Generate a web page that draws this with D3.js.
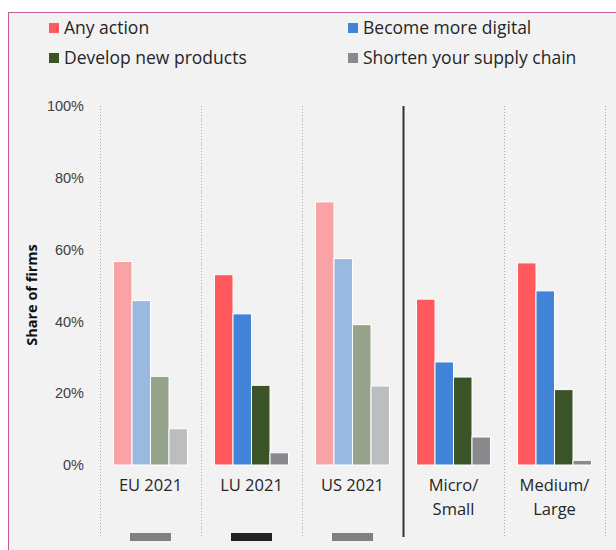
<!DOCTYPE html>
<html>
<head>
<meta charset="utf-8">
<script src="https://cdn.jsdelivr.net/npm/d3@7"></script>
<style>
  body { margin: 0; background: #fff; }
  svg { display: block; font-family: "Open Sans", "Noto Sans", sans-serif; }
</style>
</head>
<body>
<svg id="chart" width="616" height="550"></svg>
<script>
// chart data
const categories = ["EU 2021", "LU 2021", "US 2021", "Micro/ Small", "Medium/ Large"]
const seriesNames = ["Any action", "Become more digital", "Develop new products", "Shorten your supply chain"]
const anyAction = [0.567, 0.530, 0.733, 0.462, 0.563]
const moreDigital = [0.458, 0.421, 0.575, 0.287, 0.485]
const newProducts = [0.247, 0.222, 0.391, 0.245, 0.210]
const supplyChain = [0.101, 0.034, 0.220, 0.078, 0.013]
const benchmark = [true, false, true, false, false]
const markerShade = ["#808080", "#222222", "#808080", null, null]
const yTicks = [0, 0.2, 0.4, 0.6, 0.8, 1]

const colors = ["#FF595E", "#4183D7", "#3A5427", "#888A8D"]
const fadedColors = ["#F9A3A7", "#9AB9E1", "#95A38A", "#BCBDBF"]

const svg = d3.select("#chart")

// frame
svg.append("rect")
  .attr("x", 8.5).attr("y", 12.5)
  .attr("width", 700).attr("height", 600)
  .attr("fill", "#F2F2F2")
  .attr("stroke", "#C45C96")
  .attr("stroke-width", 1)

const x = d3.scaleBand()
  .domain(categories)
  .range([100, 605])

const xs = d3.scaleBand()
  .domain(seriesNames)
  .range([13.5, 87.5])
  .padding(0)

const y = d3.scaleLinear()
  .domain([0, 1])
  .range([465, 106])

// separators between groups
const bounds = categories.map(c => x(c)).concat([x.range()[1]])
svg.append("g").selectAll("line")
  .data(bounds)
  .join("line")
  .attr("x1", d => Math.round(d) + 0.5)
  .attr("x2", d => Math.round(d) + 0.5)
  .attr("y1", 106)
  .attr("y2", 537)
  .attr("stroke", (d, i) => i === 3 ? "#333" : "#A6A6A6")
  .attr("stroke-width", (d, i) => i === 3 ? 2 : 1)
  .attr("stroke-dasharray", (d, i) => i === 3 ? null : "1,2")

// y axis
const yAxis = svg.append("g")
  .attr("transform", "translate(84,0)")
  .call(d3.axisLeft(y).tickValues(yTicks).tickFormat(d3.format(".0%")).tickSize(0).tickPadding(0))
yAxis.select(".domain").remove()
yAxis.selectAll("text")
  .style("font-size", "14.5px")
  .attr("fill", "#404040")

svg.append("text")
  .attr("transform", "translate(37,295) rotate(-90)")
  .attr("text-anchor", "middle")
  .style("font-size", "14.5px")
  .style("font-weight", "bold")
  .attr("fill", "#111")
  .text("Share of firms")

// bars
const allSeries = [anyAction, moreDigital, newProducts, supplyChain]
const groups = svg.append("g").selectAll("g")
  .data(categories)
  .join("g")
  .attr("transform", d => "translate(" + x(d) + ",0)")

groups.selectAll("rect")
  .data((d, ci) => seriesNames.map((s, si) => ({ s: s, si: si, ci: ci, v: allSeries[si][ci] })))
  .join("rect")
  .attr("x", d => xs(d.s))
  .attr("width", xs.bandwidth())
  .attr("y", d => y(d.v))
  .attr("height", d => y(0) - y(d.v))
  .attr("fill", d => benchmark[d.ci] ? fadedColors[d.si] : colors[d.si])
  .attr("stroke", "#fff")
  .attr("stroke-width", 1)

// category labels
const labels = svg.append("g").selectAll("text")
  .data(categories)
  .join("text")
  .attr("x", d => x(d) + x.bandwidth() / 2)
  .attr("y", 491)
  .attr("text-anchor", "middle")
  .style("font-size", "16.5px")
  .attr("fill", "#262626")
labels.selectAll("tspan")
  .data(d => d.indexOf("/") > -1 ? d.split(" ") : [d])
  .join("tspan")
  .attr("x", function () { return d3.select(this.parentNode).attr("x") })
  .attr("dy", (d, i) => i === 0 ? 0 : 24)
  .text(d => d)

// markers under the country groups
svg.append("g").selectAll("rect")
  .data(categories.filter((c, i) => markerShade[i]))
  .join("rect")
  .attr("x", d => x(d) + x.bandwidth() / 2 - 20.5)
  .attr("y", 533)
  .attr("width", 41)
  .attr("height", 8)
  .attr("fill", d => markerShade[categories.indexOf(d)])

// legend
const legend = svg.append("g").selectAll("g")
  .data(seriesNames)
  .join("g")
  .attr("transform", (d, i) => "translate(" + (i % 2 === 0 ? 49 : 348) + "," + (i < 2 ? 28 : 58) + ")")
legend.append("rect")
  .attr("x", 0).attr("y", -5)
  .attr("width", 10).attr("height", 10)
  .attr("fill", (d, i) => colors[i])
legend.append("text")
  .attr("x", 15)
  .attr("dy", "0.35em")
  .style("font-size", "17.5px")
  .attr("fill", "#262626")
  .text(d => d)
</script>
</body>
</html>
